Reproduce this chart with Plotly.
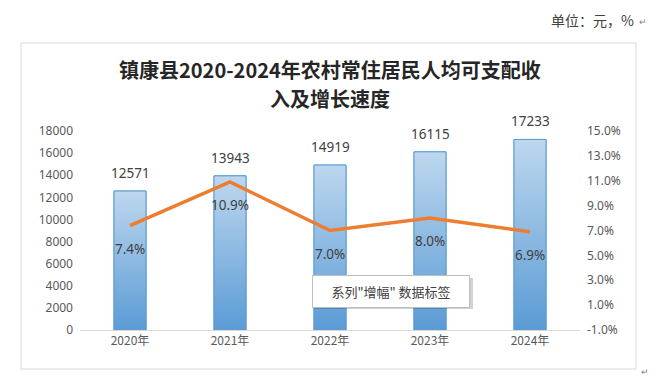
import plotly.graph_objects as go

YEARS = ["2020年", "2021年", "2022年", "2023年", "2024年"]
INCOME = [12571, 13943, 14919, 16115, 17233]
GROWTH = [7.4, 10.9, 7.0, 8.0, 6.9]
LEFT_TICKS = list(range(0, 18001, 2000))
RIGHT_TICKS = [-1, 1, 3, 5, 7, 9, 11, 13, 15]
RIGHT_LABELS = [f"{t:.1f}%" for t in RIGHT_TICKS]

W, H = 661, 386
ML, MR, MT, MB = 80, 81, 131, 56
PW, PH = W - ML - MR, H - MT - MB
BAR_W = 0.32

def px(x):
    return (x - ML) / PW

def py(y):
    return (H - MB - y) / PH

NUM_FONT = "Noto Sans, Noto Sans CJK SC, sans-serif"
CJK_FONT = "Noto Sans CJK SC, Noto Sans, sans-serif"

idx = list(range(len(YEARS)))
fig = go.Figure()

# base bars (data trace)
fig.add_trace(go.Bar(
    x=idx, y=INCOME, width=BAR_W,
    marker=dict(color="#8DBBE4", line=dict(color="#5B9BD5", width=1)),
    hoverinfo="skip", showlegend=False,
))

# gradient overlay per bar, derived from the data
for i, v in zip(idx, INCOME):
    fig.add_trace(go.Scatter(
        x=[i - BAR_W / 2, i - BAR_W / 2, i + BAR_W / 2, i + BAR_W / 2, i - BAR_W / 2],
        y=[0, v, v, 0, 0],
        mode="lines", fill="toself",
        line=dict(color="#5B9BD5", width=1),
        fillgradient=dict(type="vertical",
                          colorscale=[[0, "#5B9BD5"], [1, "#BDD7EE"]]),
        hoverinfo="skip", showlegend=False,
    ))

# growth line
fig.add_trace(go.Scatter(
    x=idx, y=GROWTH, yaxis="y2", mode="lines",
    line=dict(color="#ED7D31", width=3.5),
    hoverinfo="skip", showlegend=False,
))

annotations = []
for i, v in zip(idx, INCOME):
    annotations.append(dict(
        x=i, y=v, xref="x", yref="y", text=str(v), showarrow=False,
        yshift=18, font=dict(family=NUM_FONT, size=13.5, color="#404040"),
    ))
for i, g in zip(idx, GROWTH):
    annotations.append(dict(
        x=i, y=g, xref="x", yref="y2", text=f"{g:.1f}%", showarrow=False,
        yshift=-23, font=dict(family=NUM_FONT, size=13.5, color="#404040"),
    ))

# title (two lines)
annotations.append(dict(
    x=px(330), y=py(69), xref="paper", yref="paper",
    text="<b>镇康县2020-2024年农村常住居民人均可支配收</b>",
    showarrow=False, xanchor="center", yanchor="middle",
    font=dict(family=CJK_FONT, size=20, color="#262626"),
))
annotations.append(dict(
    x=px(330), y=py(98), xref="paper", yref="paper",
    text="<b>入及增长速度</b>",
    showarrow=False, xanchor="center", yanchor="middle",
    font=dict(family=CJK_FONT, size=20, color="#262626"),
))
# unit
annotations.append(dict(
    x=px(636), y=py(20), xref="paper", yref="paper", text="单位：元，%",
    showarrow=False, xanchor="right", yanchor="middle",
    font=dict(family=CJK_FONT, size=14, color="#404040"),
))
annotations.append(dict(
    x=px(637), y=py(22), xref="paper", yref="paper", text="↵",
    showarrow=False, xanchor="left", yanchor="middle",
    font=dict(family=CJK_FONT, size=9, color="#808080"),
))
annotations.append(dict(
    x=px(639), y=py(371), xref="paper", yref="paper", text="↵",
    showarrow=False, xanchor="left", yanchor="middle",
    font=dict(family=CJK_FONT, size=9, color="#808080"),
))
# callout box
annotations.append(dict(
    x=px(391), y=py(291), xref="paper", yref="paper",
    text='系列"增幅" 数据标签', showarrow=False,
    xanchor="center", yanchor="middle", width=150, height=25,
    bgcolor="white", bordercolor="#BFBFBF", borderwidth=1, borderpad=3,
    font=dict(family=CJK_FONT, size=13, color="#404040"),
))

shapes = [
    dict(type="rect", xref="paper", yref="paper",
         x0=px(21), x1=px(636), y0=py(369), y1=py(43),
         line=dict(color="#D9D9D9", width=1), fillcolor="rgba(0,0,0,0)"),
    dict(type="rect", xref="paper", yref="paper",
         x0=px(314), x1=px(473), y0=py(309), y1=py(278),
         line=dict(width=0), fillcolor="rgba(0,0,0,0.18)"),
]

fig.update_layout(
    width=W, height=H,
    margin=dict(l=ML, r=MR, t=MT, b=MB),
    paper_bgcolor="white", plot_bgcolor="white",
    showlegend=False,
    xaxis=dict(range=[-0.5, 4.5], tickvals=idx, ticktext=YEARS,
               showgrid=False, zeroline=False, showline=True,
               linecolor="#D9D9D9", linewidth=1, ticks="",
               tickfont=dict(family=CJK_FONT, size=12, color="#595959"),
               fixedrange=True),
    yaxis=dict(range=[0, 18000], tickvals=LEFT_TICKS, tickformat="d",
               showgrid=False, zeroline=False, showline=False, ticks="",
               ticklabelstandoff=6,
               tickfont=dict(family=NUM_FONT, size=12, color="#595959"),
               fixedrange=True),
    yaxis2=dict(range=[-1, 15], tickvals=RIGHT_TICKS, ticktext=RIGHT_LABELS,
                overlaying="y", side="right",
                showgrid=False, zeroline=False, showline=False, ticks="",
                ticklabelstandoff=6,
                tickfont=dict(family=NUM_FONT, size=12, color="#595959"),
                fixedrange=True),
    annotations=annotations,
    shapes=shapes,
    bargap=0.68,
)

fig.write_html("out.html", config={"displayModeBar": False},
               post_script="document.body.style.margin='0';")
